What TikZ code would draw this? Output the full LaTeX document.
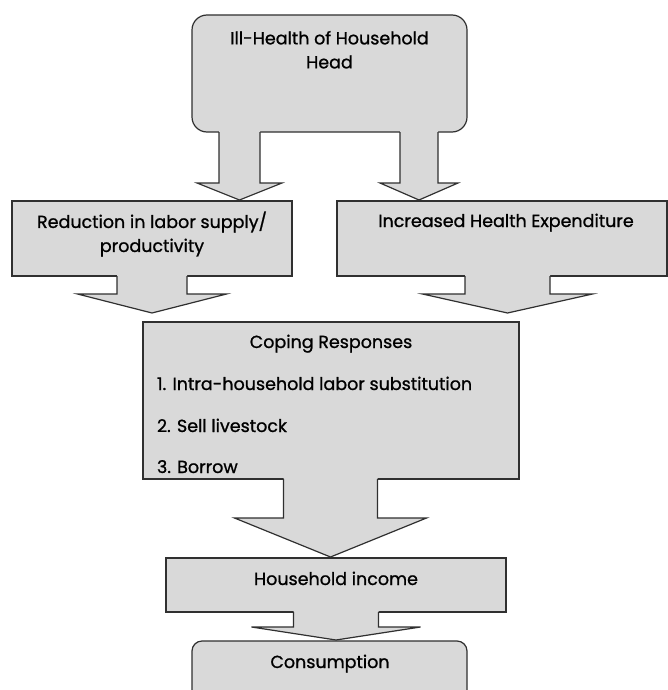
\documentclass[tikz,border=0pt]{standalone}
\usepackage{fontspec}
\setmainfont{Poppins}[FakeBold=1]
\usetikzlibrary{calc}
\definecolor{boxfill}{HTML}{D9D9D9}
\definecolor{boxline}{HTML}{303030}
\tikzset{
  box/.style={draw=boxline, fill=boxfill, line width=1.2pt, inner sep=0pt, outer sep=0pt},
  arrowline/.style={draw=boxline, line width=1.2pt, line join=miter},
  txt/.style={inner sep=0pt, outer sep=0pt, font=\fontsize{17.5}{24}\selectfont, text=black},
}
% #1 start point, #2 target anchor, #3 gap, #4 shaft half width, #5 head half width, #6 head length
\newcommand{\blockarrow}[6]{%
  \fill[boxfill] let \p1=(#1), \p2=(#2) in
    (\x1-#4,\y1+1pt) -- (\x1-#4,\y2+#3+#6) -- (\x1-#5,\y2+#3+#6) -- (\x1,\y2+#3)
    -- (\x1+#5,\y2+#3+#6) -- (\x1+#4,\y2+#3+#6) -- (\x1+#4,\y1+1pt) -- cycle;
  \draw[arrowline] let \p1=(#1), \p2=(#2) in
    (\x1-#4,\y1) -- (\x1-#4,\y2+#3+#6) -- (\x1-#5,\y2+#3+#6) -- (\x1,\y2+#3)
    -- (\x1+#5,\y2+#3+#6) -- (\x1+#4,\y2+#3+#6) -- (\x1+#4,\y1);
}
\begin{document}
\begin{tikzpicture}[x=1pt,y=-1pt]
\useasboundingbox (0,0) rectangle (668,690);
\clip (0,0) rectangle (668,690);

% boxes
\node[box, rounded corners=15pt, minimum width=275pt, minimum height=117pt] (top) at (329.5,73.5) {};
\node[box, minimum width=280pt, minimum height=75pt] (left) at (152,238.5) {};
\node[box, minimum width=330pt, minimum height=75pt] (right) at (502,238.5) {};
\node[box, minimum width=376pt, minimum height=157pt] (coping) at (331,400.5) {};
\node[box, minimum width=340pt, minimum height=54pt] (income) at (336,585) {};
\node[box, rounded corners=10pt, minimum width=275pt, minimum height=69pt] (cons) at (329.5,675.5) {};

% arrows
\coordinate (a1) at ($(top.south)+(-90,0)$);
\coordinate (a2) at ($(top.south)+(89.5,0)$);
\coordinate (a4) at ($(right.south)+(5.5,0)$);
\coordinate (a5) at ($(coping.south)+(-0.5,0)$);
\blockarrow{a1}{left.north}{1pt}{20.5pt}{42.5pt}{17pt}
\blockarrow{a2}{right.north}{1pt}{19pt}{39pt}{17pt}
\blockarrow{left.south}{coping.north}{9pt}{35pt}{74.5pt}{19pt}
\blockarrow{a4}{coping.north}{9pt}{42.5pt}{85pt}{19pt}
\blockarrow{a5}{income.north}{1pt}{47pt}{96pt}{39pt}
\blockarrow{income.south}{cons.north}{1pt}{42.5pt}{84.5pt}{13pt}

% texts
\node[txt, align=center, anchor=north] (toptext) at (329.5,31) {Ill-Health of Household\\Head};
\node[txt, align=center, anchor=north] (lefttext) at (152,211.5) {Reduction in labor supply/\\productivity};
\node[txt, anchor=base] (righttext) at (506,227) {Increased Health Expenditure};
\node[txt, anchor=base] (copetitle) at (331,348) {Coping Responses};
\node[txt, anchor=base west] (item1) at (157,390) {1. Intra-household labor substitution};
\node[txt, anchor=base west] (item2) at (157,432) {2. Sell livestock};
\node[txt, anchor=base west] (item3) at (157,473) {3. Borrow};
\node[txt, anchor=base] (incometext) at (336,585) {Household income};
\node[txt, anchor=base] (constext) at (330,668) {Consumption};
\end{tikzpicture}
\end{document}
